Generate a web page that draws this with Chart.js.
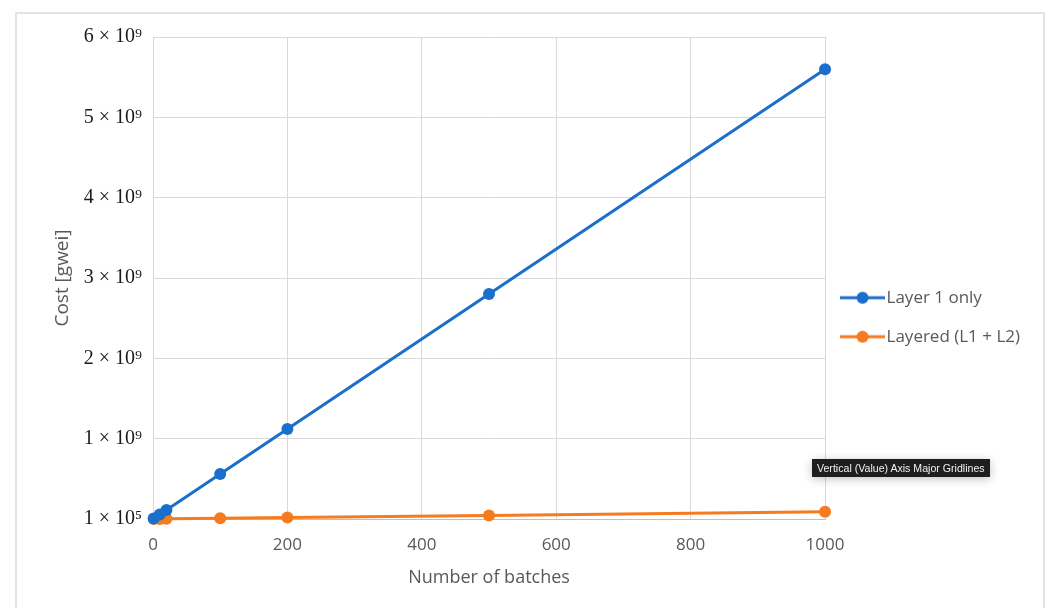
<!DOCTYPE html>
<html>
<head>
<meta charset="utf-8">
<script src="https://cdn.jsdelivr.net/npm/chart.js@4.4.1/dist/chart.umd.min.js"></script>
<style>
    html, body { margin: 0; padding: 0; background: #fff; }
    #wrap { position: relative; width: 1051px; height: 608px; overflow: hidden; }
    #frame {
        position: absolute; left: 15px; top: 12px; width: 1030px; height: 640px;
        border: 2px solid #e3e3e3; box-sizing: border-box;
    }
    #chart { position: absolute; left: 0; top: 0; }
    #hint {
        position: absolute; left: 812px; top: 459px; padding: 3px 5px;
        background: #1e1e1e; color: #f2f2f2; font: 10.6px "Liberation Sans", Arial, sans-serif;
        box-shadow: 0 2px 10px rgba(0,0,0,0.25); white-space: nowrap;
    }
</style>
</head>
<body>
<div id="wrap">
    <div id="frame"></div>
    <canvas id="chart" width="1051" height="608"></canvas>
    <div id="hint">Vertical (Value) Axis Major Gridlines</div>
</div>
<script>
// Données
const batches = [1, 10, 20, 100, 200, 500, 1000];
const layer1Only = [5.6e6, 5.6e7, 1.12e8, 5.6e8, 1.12e9, 2.8e9, 5.6e9];
const layered = [1e5, 9e5, 1.8e6, 9e6, 1.8e7, 4.5e7, 9e7];
const seriesNames = ['Layer 1 only', 'Layered (L1 + L2)'];
const seriesColors = ['#1a6fcc', '#f47b20'];
const xTicks = [0, 200, 400, 600, 800, 1000];
const yTicks = [0, 1e9, 2e9, 3e9, 4e9, 5e9, 6e9];
const yTickLabels = ['1 × 10⁵', '1 × 10⁹', '2 × 10⁹', '3 × 10⁹', '4 × 10⁹', '5 × 10⁹', '6 × 10⁹'];

// Icône de légende (ligne + point, façon Excel)
function legendIcon(color) {
    const c = document.createElement('canvas');
    c.width = 45; c.height = 14;
    const g = c.getContext('2d');
    g.strokeStyle = color; g.lineWidth = 3;
    g.beginPath(); g.moveTo(0, 7); g.lineTo(45, 7); g.stroke();
    g.fillStyle = color;
    g.beginPath(); g.arc(22.5, 7, 6, 0, Math.PI * 2); g.fill();
    return c;
}

const makeSet = (i, values) => ({
    label: seriesNames[i],
    data: batches.map((x, k) => ({ x: x, y: values[k] })),
    borderColor: seriesColors[i],
    backgroundColor: seriesColors[i],
    borderWidth: 3,
    pointRadius: 6,
    pointHoverRadius: 6,
    pointBorderWidth: 0,
    tension: 0,
    clip: false
});

new Chart(document.getElementById('chart').getContext('2d'), {
    type: 'line',
    data: {
        datasets: [makeSet(0, layer1Only), makeSet(1, layered)]
    },
    options: {
        responsive: false,
        animation: false,
        layout: { padding: { left: 51, top: 37, right: 21, bottom: 19 } },
        plugins: {
            tooltip: { enabled: false },
            legend: {
                position: 'right',
                align: 'center',
                title: { display: true, text: ' ', font: { size: 2 }, padding: { top: 3, bottom: 3 } },
                labels: {
                    usePointStyle: true,
                    pointStyleWidth: 31,
                    padding: 22,
                    color: '#595959',
                    font: { family: 'Open Sans', size: 17 },
                    generateLabels: (chart) => chart.data.datasets.map((ds, i) => ({
                        text: ds.label,
                        fontColor: '#595959',
                        pointStyle: legendIcon(seriesColors[i]),
                        strokeStyle: 'transparent',
                        fillStyle: 'transparent',
                        lineWidth: 0,
                        datasetIndex: i
                    }))
                }
            }
        },
        scales: {
            x: {
                type: 'linear',
                min: 0,
                max: 1000,
                afterBuildTicks: (s) => { s.ticks = xTicks.map(v => ({ value: v })); },
                afterFit: (s) => { s.height = 70; },
                grid: { color: '#d9d9d9', lineWidth: 1, drawTicks: false },
                border: { color: '#bfbfbf', width: 1 },
                ticks: {
                    padding: 16,
                    color: '#595959',
                    font: { family: 'Open Sans', size: 17 },
                    callback: (v) => String(v)
                },
                title: {
                    display: true,
                    text: 'Number of batches',
                    color: '#595959',
                    font: { family: 'Open Sans', size: 18 },
                    padding: { top: 4, bottom: 0 }
                }
            },
            y: {
                min: 0,
                max: 6e9,
                afterBuildTicks: (s) => { s.ticks = yTicks.map(v => ({ value: v })); },
                afterFit: (s) => { s.width = 102; },
                grid: { color: '#d9d9d9', lineWidth: 1, drawTicks: false },
                border: { color: '#d9d9d9', width: 1 },
                ticks: {
                    padding: 11,
                    color: '#1a1a1a',
                    font: { family: 'Liberation Serif', size: 20 },
                    callback: (v) => yTickLabels[yTicks.indexOf(v)]
                },
                title: {
                    display: true,
                    text: 'Cost [gwei]',
                    color: '#595959',
                    font: { family: 'Open Sans', size: 19 },
                    padding: { top: 0, bottom: 4 }
                }
            }
        }
    }
});
</script>
</body>
</html>
